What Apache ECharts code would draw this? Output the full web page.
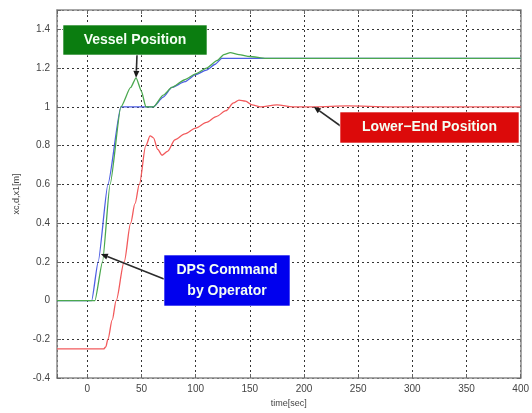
<!DOCTYPE html>
<html>
<head>
<meta charset="utf-8">
<script src="https://cdn.jsdelivr.net/npm/echarts@6/dist/echarts.min.js"></script>
<style>
  html, body { margin: 0; padding: 0; background: #fff; }
  #chart { width: 532px; height: 413px; }
</style>
</head>
<body>
<div id="chart"></div>
<script>
// DPS command issued by the operator [m]
const cmdTime = [-28, 4, 10, 19, 31, 61, 70, 78, 90, 100, 110, 118, 124, 140, 200, 260, 320, 400];
const cmdPos  = [0, 0, 0.2, 0.6, 1.0, 1.0, 1.05, 1.1, 1.13, 1.166, 1.19, 1.22, 1.25, 1.25, 1.25, 1.25, 1.25, 1.25];

// Vessel position [m]
const vesselTime = [-28, 7, 14, 21, 31, 40, 45, 50, 54, 61, 70, 78, 90, 100, 110, 120, 126, 132, 140, 150, 165, 200, 260, 320, 400];
const vesselPos  = [0, 0, 0.2, 0.6, 1.0, 1.1, 1.15, 1.08, 1.0, 1.0, 1.06, 1.1, 1.14, 1.17, 1.2, 1.24, 1.27, 1.28, 1.27, 1.26, 1.25, 1.25, 1.25, 1.25, 1.25];

// Lower-end position [m]
const lowerTime = [-28, 15, 17, 19, 23, 26.6, 34, 40, 44, 48, 54, 58, 61, 65, 69, 74, 81, 90, 100, 110, 119, 128, 135, 140, 146, 152, 160, 175, 190, 210, 240, 280, 320, 360, 400];
const lowerPos  = [-0.25, -0.25, -0.24, -0.2, -0.1, 0, 0.2, 0.4, 0.5, 0.6, 0.8, 0.85, 0.84, 0.78, 0.75, 0.77, 0.83, 0.86, 0.89, 0.92, 0.95, 0.98, 1.02, 1.035, 1.03, 1.01, 1.0, 1.01, 1.0, 1.0, 1.005, 1.0, 1.0, 1.0, 1.0];

// Axis ranges and steps
const timeRange = [-28, 400];
const timeStep = 50;
const posRange = [-0.4, 1.5];
const posStep = 0.2;

const pairs = (xs, ys) => xs.map((x, i) => [x, ys[i]]);

const gridLine = { show: true, lineStyle: { color: '#333', width: 1, type: [2, 3] } };
const frameLine = { show: true, onZero: false, lineStyle: { color: '#8a8a8a', width: 1.5 } };
const tickStyle = { show: true, inside: true, length: 4, lineStyle: { color: '#666' } };
const labelFont = { color: '#444', fontSize: 10, fontFamily: 'Liberation Sans, Arial, sans-serif' };

const chart = echarts.init(document.getElementById('chart'), null, { renderer: 'canvas' });

const option = {
  animation: false,
  backgroundColor: '#fff',
  grid: { left: 57, right: 8, top: 10, bottom: 35, containLabel: false },
  xAxis: [{
    type: 'value', min: timeRange[0], max: timeRange[1], splitNumber: 8,
    name: 'time[sec]', nameLocation: 'middle', nameGap: 20,
    nameTextStyle: Object.assign({}, labelFont, { fontSize: 9 }),
    axisLine: frameLine,
    axisTick: tickStyle,
    axisLabel: Object.assign({}, labelFont, {
      margin: 6,
      formatter: v => (Math.abs(v % timeStep) < 1e-6 ? String(v) : '')
    }),
    splitLine: gridLine
  }, {
    type: 'value', position: 'top', min: timeRange[0], max: timeRange[1], splitNumber: 8,
    axisLine: frameLine,
    axisTick: tickStyle,
    axisLabel: { show: false }, splitLine: { show: false }
  }],
  yAxis: [{
    type: 'value', min: posRange[0], max: posRange[1], interval: posStep,
    name: 'xc,d,x1[m]', nameLocation: 'middle', nameGap: 36, nameRotate: 90,
    nameTextStyle: Object.assign({}, labelFont, { fontSize: 9 }),
    axisLine: frameLine,
    axisTick: tickStyle,
    axisLabel: Object.assign({}, labelFont, {
      margin: 7,
      formatter: v => {
        const k = Math.round((v - posRange[0]) / posStep);
        if (Math.abs(posRange[0] + k * posStep - v) > 1e-6) return '';
        return String(Math.round(v * 10) / 10);
      }
    }),
    splitLine: gridLine
  }, {
    type: 'value', position: 'right', min: posRange[0], max: posRange[1], interval: posStep,
    axisLine: frameLine,
    axisTick: tickStyle,
    axisLabel: { show: false }, splitLine: { show: false }
  }],
  series: [
    { name: 'Lower-End Position', type: 'line', data: pairs(lowerTime, lowerPos),
      smooth: 0.3, smoothMonotone: 'x',
      showSymbol: false, lineStyle: { color: '#f25a5c', width: 1.3 }, z: 3 },
    { name: 'DPS Command by Operator', type: 'line', data: pairs(cmdTime, cmdPos),
      smooth: 0.2, smoothMonotone: 'x',
      showSymbol: false, lineStyle: { color: '#4d5fe4', width: 1.3 }, z: 4 },
    { name: 'Vessel Position', type: 'line', data: pairs(vesselTime, vesselPos),
      smooth: 0.2, smoothMonotone: 'x',
      showSymbol: false, lineStyle: { color: '#4aa84e', width: 1.3 }, z: 5 }
  ]
};
chart.setOption(option);

// Callout boxes with arrows pointing at a point on a curve
const callouts = [
  { lines: ['Vessel Position'], fill: '#0b7d10', box: [63, 25, 144, 30], tail: [137, 55], tip: [45, 1.15] },
  { lines: ['Lower\u2212End Position'], fill: '#dc0a0a', box: [340, 112, 179, 31], tail: [342, 127], tip: [209, 1.0] },
  { lines: ['DPS Command', 'by Operator'], fill: '#0000ee', box: [164, 255, 126, 51], tail: [164, 279], tip: [12.5, 0.24] }
];

const elements = [];
callouts.forEach(c => {
  const [bx, by, bw, bh] = c.box;
  const tip = chart.convertToPixel({ xAxisIndex: 0, yAxisIndex: 0 }, c.tip);
  const [tx, ty] = c.tail;
  const ang = Math.atan2(tip[1] - ty, tip[0] - tx);
  const headLen = 7, headW = 3;
  const baseX = tip[0] - headLen * Math.cos(ang), baseY = tip[1] - headLen * Math.sin(ang);
  const nx = -Math.sin(ang) * headW, ny = Math.cos(ang) * headW;
  elements.push({
    type: 'line', z: 100,
    shape: { x1: tx, y1: ty, x2: baseX, y2: baseY },
    style: { stroke: '#2b2b2b', lineWidth: 1.6 }
  });
  elements.push({
    type: 'polygon', z: 100,
    shape: { points: [[tip[0], tip[1]], [baseX + nx, baseY + ny], [baseX - nx, baseY - ny]] },
    style: { fill: '#1a1a1a' }
  });
  elements.push({
    type: 'rect', z: 101,
    shape: { x: bx, y: by, width: bw, height: bh },
    style: { fill: c.fill, stroke: 'rgba(255,255,255,0.6)', lineWidth: 1 }
  });
  const lh = 21;
  const y0 = by + bh / 2 - (c.lines.length - 1) * lh / 2;
  c.lines.forEach((t, i) => {
    elements.push({
      type: 'text', z: 102,
      style: {
        text: t, x: bx + bw / 2, y: y0 + i * lh,
        align: 'center', verticalAlign: 'middle',
        fill: '#f4fff4', font: 'bold 14px "Liberation Sans", Arial, sans-serif'
      }
    });
  });
});
chart.setOption({ graphic: { elements } });
</script>
</body>
</html>
